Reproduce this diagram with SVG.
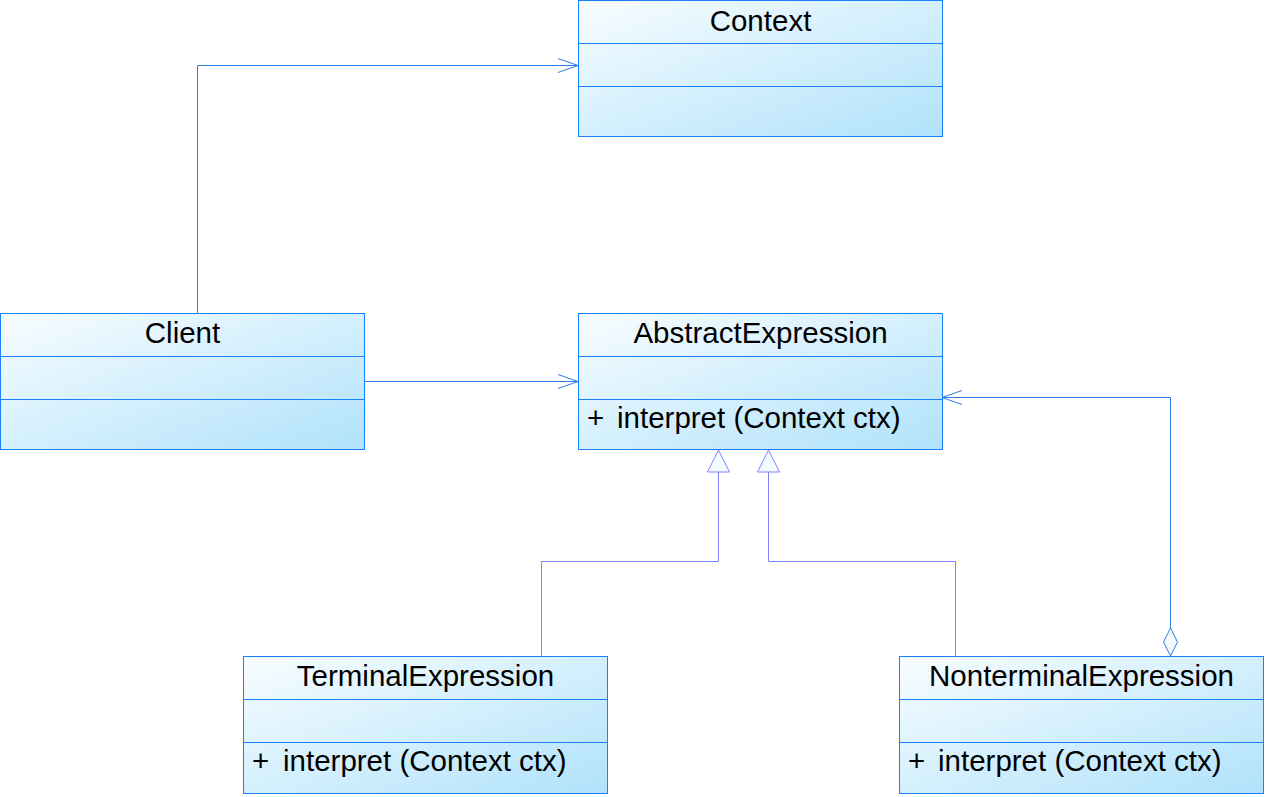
<svg xmlns="http://www.w3.org/2000/svg" width="1267" height="797" viewBox="0 0 1267 797">
<style>
.box{fill:url(#g);stroke:#1a80ff;stroke-width:1}
.div{stroke:#1a80ff;stroke-width:1}
.t{font-family:"Liberation Sans",Arial,sans-serif;font-size:29.5px;fill:#000}
.c{text-anchor:middle}
.assoc{fill:none;stroke:#2a7de8;stroke-width:1}
.gen{fill:none;stroke:#8080ff;stroke-width:1}
</style>
<defs>
<linearGradient id="g" x1="0" y1="0" x2="1" y2="1">
<stop offset="0" stop-color="#f8fdff"/>
<stop offset="1" stop-color="#b0e2fb"/>
</linearGradient>
<marker id="open" markerWidth="24" markerHeight="18" refX="21" refY="8" orient="auto" markerUnits="userSpaceOnUse">
<path d="M1,1 L21,8 L1,15" fill="none" stroke="#2a7de8" stroke-width="1"/>
</marker>
<marker id="tri" markerWidth="26" markerHeight="26" refX="23" refY="12" orient="auto" markerUnits="userSpaceOnUse">
<path d="M1,1 L23,12 L1,23 Z" fill="#f4fbff" stroke="#8080ff" stroke-width="1"/>
</marker>
<marker id="dia" markerWidth="32" markerHeight="18" refX="2" refY="8" orient="auto" markerUnits="userSpaceOnUse">
<path d="M2,8 L16,1 L30,8 L16,15 Z" fill="#f4fbff" stroke="#2a7de8" stroke-width="1"/>
</marker>
</defs>
<g id="connectors">
<path class="assoc" d="M197.5,313 V65.5 H578" marker-end="url(#open)"/>
<path class="assoc" d="M364,381.5 H578" marker-end="url(#open)"/>
<path class="gen" d="M541.5,656 V561.5 H718.5 V450" marker-end="url(#tri)"/>
<path class="gen" d="M955.5,656 V561.5 H768.5 V450" marker-end="url(#tri)"/>
<path class="assoc" d="M1170.5,656 V397.5 H942" marker-start="url(#dia)" marker-end="url(#open)"/>
</g>
<g id="Context">
<rect class="box" x="578.5" y="0.5" width="364" height="136"/>
<line class="div" x1="578.5" y1="43.5" x2="942.5" y2="43.5"/>
<line class="div" x1="578.5" y1="86.5" x2="942.5" y2="86.5"/>
<text class="t c" x="760.5" y="31">Context</text>
</g>
<g id="Client">
<rect class="box" x="0.5" y="313.5" width="364" height="136"/>
<line class="div" x1="0.5" y1="356.5" x2="364.5" y2="356.5"/>
<line class="div" x1="0.5" y1="399.5" x2="364.5" y2="399.5"/>
<text class="t c" x="182.5" y="343">Client</text>
</g>
<g id="AbstractExpression">
<rect class="box" x="578.5" y="313.5" width="364" height="136"/>
<line class="div" x1="578.5" y1="356.5" x2="942.5" y2="356.5"/>
<line class="div" x1="578.5" y1="399.5" x2="942.5" y2="399.5"/>
<text class="t c" x="760.5" y="343">AbstractExpression</text>
<text class="t" x="587" y="428">+</text>
<text class="t" x="617" y="428">interpret (Context ctx)</text>
</g>
<g id="TerminalExpression">
<rect class="box" x="243.5" y="656.5" width="364" height="137"/>
<line class="div" x1="243.5" y1="699.5" x2="607.5" y2="699.5"/>
<line class="div" x1="243.5" y1="742.5" x2="607.5" y2="742.5"/>
<text class="t c" x="425.5" y="686">TerminalExpression</text>
<text class="t" x="252" y="771">+</text>
<text class="t" x="283" y="771">interpret (Context ctx)</text>
</g>
<g id="NonterminalExpression">
<rect class="box" x="899.5" y="656.5" width="364" height="137"/>
<line class="div" x1="899.5" y1="699.5" x2="1263.5" y2="699.5"/>
<line class="div" x1="899.5" y1="742.5" x2="1263.5" y2="742.5"/>
<text class="t c" x="1081.5" y="686">NonterminalExpression</text>
<text class="t" x="908" y="771">+</text>
<text class="t" x="938" y="771">interpret (Context ctx)</text>
</g>
</svg>
